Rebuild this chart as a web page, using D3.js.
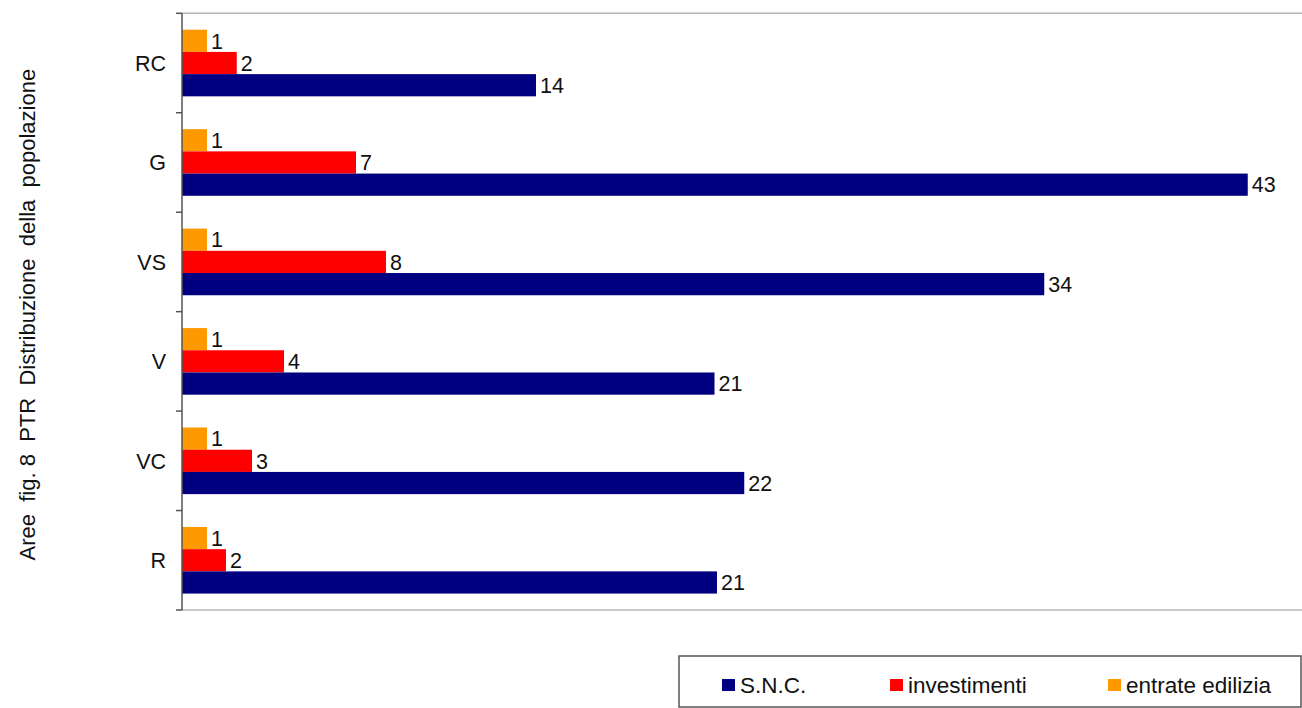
<!DOCTYPE html>
<html>
<head>
<meta charset="utf-8">
<script src="https://cdn.jsdelivr.net/npm/d3@7"></script>
<style>
  html, body { margin: 0; padding: 0; background: #fff; }
  svg { display: block; font-family: "Liberation Sans", Arial, sans-serif; }
</style>
</head>
<body>
<svg id="chart" width="1302" height="708"></svg>
<script>
const categories = ["RC", "G", "VS", "V", "VC", "R"];
const seriesNames = ["entrate edilizia", "investimenti", "S.N.C."];
const sncValues = [14.16, 42.63, 34.49, 21.3, 22.49, 21.4];
const investimentiValues = [2.19, 6.96, 8.16, 4.08, 2.8, 1.76];
const entrateValues = [1, 1, 1, 1, 1, 1];
const legendOrder = ["S.N.C.", "investimenti", "entrate edilizia"];
const axisTitle = "Aree  fig. 8  PTR  Distribuzione  della  popolazione";

const colors = { "S.N.C.": "#000080", "investimenti": "#ff0000", "entrate edilizia": "#ff9900" };
const valuesBySeries = { "S.N.C.": sncValues, "investimenti": investimentiValues, "entrate edilizia": entrateValues };

const svg = d3.select("#chart");
const plotLeft = 182, plotRight = 1302, plotTop = 13.3, plotBottom = 610;
const fs = 21.5;

const x = d3.scaleLinear().domain([0, 45]).range([plotLeft, plotLeft + 45 * 25]);
const y = d3.scaleBand().domain(categories).range([plotTop, plotBottom]).paddingInner(0.33).paddingOuter(0.165);
const ySub = d3.scaleBand().domain(seriesNames).range([0, y.bandwidth()]);

// plot area top/bottom border
svg.append("line").attr("x1", plotLeft).attr("x2", plotRight).attr("y1", plotTop).attr("y2", plotTop)
  .attr("stroke", "#b4b4b4").attr("stroke-width", 1.5);
svg.append("line").attr("x1", plotLeft).attr("x2", plotRight).attr("y1", plotBottom).attr("y2", plotBottom)
  .attr("stroke", "#b4b4b4").attr("stroke-width", 1.5);

// bars
const groups = svg.append("g").selectAll("g").data(categories).join("g")
  .attr("transform", d => `translate(0,${y(d)})`);

seriesNames.forEach(s => {
  groups.append("rect")
    .attr("x", x(0))
    .attr("y", ySub(s))
    .attr("width", (d, i) => x(valuesBySeries[s][i]) - x(0))
    .attr("height", ySub.bandwidth())
    .attr("fill", colors[s]);
  groups.append("text")
    .attr("x", (d, i) => x(valuesBySeries[s][i]) + 4)
    .attr("y", ySub(s) + ySub.bandwidth() / 2)
    .attr("dy", "0.36em")
    .attr("font-size", fs)
    .attr("fill", "#111")
    .text((d, i) => d3.format(".0f")(valuesBySeries[s][i]));
});

// category axis
const boundaries = categories.map(c => y(c) - y.step() * y.paddingInner() / 2).concat([plotBottom]);
boundaries[0] = plotTop;
const axisG = svg.append("g");
axisG.append("line").attr("x1", plotLeft).attr("x2", plotLeft).attr("y1", plotTop).attr("y2", plotBottom)
  .attr("stroke", "#555").attr("stroke-width", 1.5);
axisG.selectAll("line.tick").data(boundaries).join("line").attr("class", "tick")
  .attr("x1", plotLeft - 6).attr("x2", plotLeft).attr("y1", d => d).attr("y2", d => d)
  .attr("stroke", "#555").attr("stroke-width", 1.5);
axisG.selectAll("text").data(categories).join("text")
  .attr("x", 166).attr("y", d => y(d) + y.bandwidth() / 2).attr("dy", "0.36em")
  .attr("text-anchor", "end").attr("font-size", fs).attr("fill", "#111").text(d => d);

// axis title
svg.append("text")
  .attr("transform", `translate(35,${(plotTop + plotBottom) / 2 + 3}) rotate(-90)`)
  .attr("text-anchor", "middle").attr("font-size", 22).attr("fill", "#111")
  .style("white-space", "pre").attr("xml:space", "preserve")
  .text(axisTitle);

// legend
const lg = svg.append("g");
lg.append("rect").attr("x", 679).attr("y", 656).attr("width", 622).attr("height", 51)
  .attr("fill", "#fff").attr("stroke", "#555").attr("stroke-width", 1.5);
const legendX = { "S.N.C.": 722, "investimenti": 890, "entrate edilizia": 1108 };
legendOrder.forEach(s => {
  lg.append("rect").attr("x", legendX[s]).attr("y", 679).attr("width", 13).attr("height", 12).attr("fill", colors[s]);
  lg.append("text").attr("x", legendX[s] + 18).attr("y", 685).attr("dy", "0.36em")
    .attr("font-size", 22.5).attr("fill", "#111").text(s);
});
</script>
</body>
</html>
